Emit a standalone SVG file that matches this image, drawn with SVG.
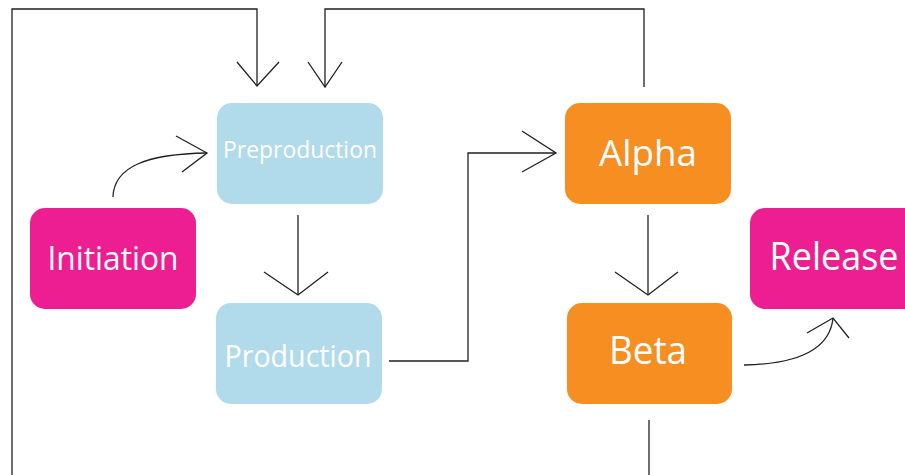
<svg xmlns="http://www.w3.org/2000/svg" width="905" height="475" viewBox="0 0 905 475">
<style>
.conn{fill:none;stroke:#231f20;stroke-width:1.3;stroke-linejoin:miter}
.blue{fill:#b1dbea}
.orange{fill:#f68e22}
.pink{fill:#ed1e91}
.lbl{font-family:"Open Sans","Noto Sans",sans-serif;fill:#ffffff;text-anchor:middle}
</style>
<rect width="905" height="475" fill="#ffffff"/>
<g id="connectors">
<path class="conn" d="M12,475 V9 H257 V86"/>
<path class="conn" d="M237,62 L257,86 L279,62"/>
<path class="conn" d="M644,87 V9 H325 V87"/>
<path class="conn" d="M308,62 L325,87 L342,62"/>
<path class="conn" d="M298,215 V295"/>
<path class="conn" d="M264,272 L298,295 L328,272"/>
<path class="conn" d="M389,361 H468 V153 H556"/>
<path class="conn" d="M522,131 L556,153 L522,172"/>
<path class="conn" d="M648,215 V295"/>
<path class="conn" d="M615,272 L648,295 L678,272"/>
<path class="conn" d="M649,420 V475"/>
<path class="conn" d="M113,197 C114,166 148,154 207,153"/>
<path class="conn" d="M176,136 L207,153 L182,172"/>
<path class="conn" d="M744,365 C800,364 830,348 833,318"/>
<path class="conn" d="M807,333 L833,318 L849,338"/>
</g>
<g id="initiation">
<rect class="pink" x="30" y="208" width="166" height="101" rx="15"/>
<text class="lbl" x="113" y="270" font-size="33" textLength="131" lengthAdjust="spacingAndGlyphs">Initiation</text>
</g>
<g id="preproduction">
<rect class="blue" x="217" y="103" width="166" height="101" rx="15"/>
<text class="lbl" x="300" y="158" font-size="23" textLength="154" lengthAdjust="spacingAndGlyphs">Preproduction</text>
</g>
<g id="production">
<rect class="blue" x="216" y="303" width="166" height="101" rx="15"/>
<text class="lbl" x="298" y="367" font-size="31" textLength="147" lengthAdjust="spacingAndGlyphs">Production</text>
</g>
<g id="alpha">
<rect class="orange" x="565" y="103" width="166" height="101" rx="15"/>
<text class="lbl" x="648" y="166" font-size="37" textLength="98" lengthAdjust="spacingAndGlyphs">Alpha</text>
</g>
<g id="beta">
<rect class="orange" x="567" y="303" width="165" height="101" rx="15"/>
<text class="lbl" x="648" y="364" font-size="38" textLength="78" lengthAdjust="spacingAndGlyphs">Beta</text>
</g>
<g id="release">
<rect class="pink" x="750" y="208" width="180" height="101" rx="15"/>
<text class="lbl" x="834" y="270" font-size="38" textLength="129" lengthAdjust="spacingAndGlyphs">Release</text>
</g>
</svg>
